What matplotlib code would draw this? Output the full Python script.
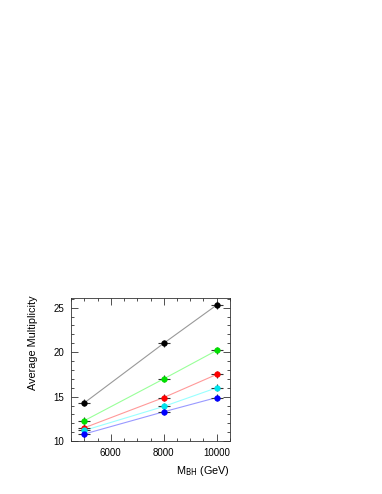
import numpy as np
import matplotlib.pyplot as plt
from matplotlib.ticker import MultipleLocator

plt.rcParams['font.family'] = ['Liberation Sans', 'DejaVu Sans']

# masses du trou noir (GeV)
mass = [5000, 8000, 10000]

# multiplicités moyennes par série
mult_black = [14.3, 21.0, 25.3]
mult_green = [12.3, 17.0, 20.2]
mult_red = [11.5, 14.9, 17.5]
mult_cyan = [11.2, 13.9, 16.0]
mult_blue = [10.8, 13.3, 14.9]

x_err = [220, 220, 220]
y_err = [0.4, 0.4, 0.4]

series = [
    (mult_black, 'black', '#999999'),
    (mult_green, '#00e000', '#99ff99'),
    (mult_red, '#ff0000', '#ff9999'),
    (mult_cyan, '#00e5ee', '#99ffff'),
    (mult_blue, '#0000ff', '#9999ff'),
]

fig = plt.figure(figsize=(3.82, 4.94), dpi=100)
ax = fig.add_axes([0.186, 0.107, 0.416, 0.290])

for vals, mcol, lcol in series:
    ax.plot(mass, vals, color=lcol, lw=0.8, zorder=1)
    ax.errorbar(mass, vals, xerr=x_err, yerr=y_err, fmt='o', ms=3.5,
                color=mcol, ecolor='#333333', elinewidth=0.8, capsize=0,
                zorder=2)

ax.set_xlim(4500, 10500)
ax.set_ylim(10, 26.1)
ax.xaxis.set_major_locator(MultipleLocator(2000))
ax.xaxis.set_minor_locator(MultipleLocator(500))
ax.yaxis.set_major_locator(MultipleLocator(5))
ax.yaxis.set_minor_locator(MultipleLocator(1))
ax.tick_params(which='both', direction='in', top=True, right=True,
               labelsize=7, width=0.6, color='#333333')
ax.tick_params(which='major', length=5, pad=5)
ax.tick_params(which='minor', length=2.5)
for s in ax.spines.values():
    s.set_linewidth(0.6)
    s.set_color('#333333')

# étiquettes d'axes placées comme dans l'original
ax.set_ylabel("Average Multiplicity", fontsize=7.8)
ax.yaxis.set_label_coords(-0.205, 0.685)
ax.set_xlabel(r"M$_{\mathrm{BH}}$ (GeV)", fontsize=7.8, loc='right')
ax.xaxis.set_label_coords(1.0, -0.16)

fig.savefig("out.png", dpi=100)
